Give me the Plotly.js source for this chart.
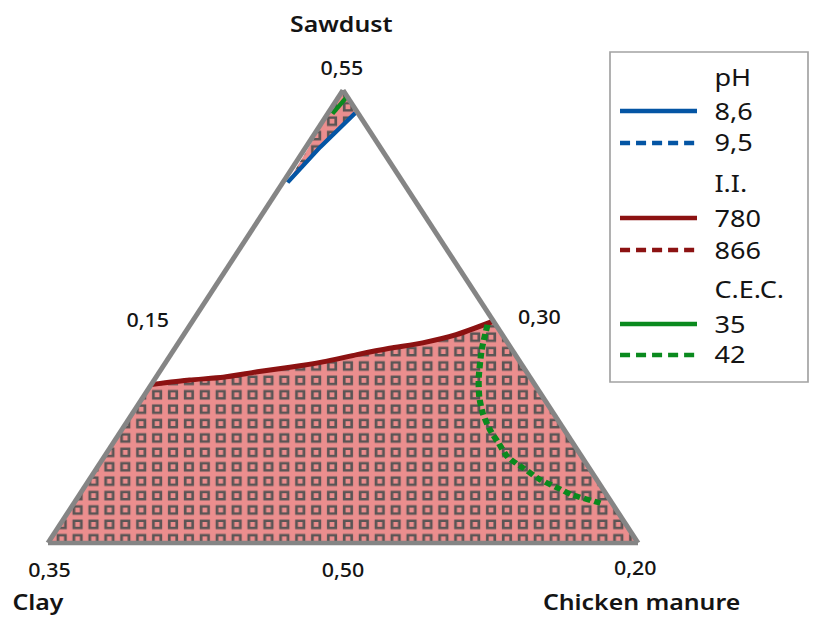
<!DOCTYPE html>
<html>
<head>
<meta charset="utf-8">
<script src="https://cdn.plot.ly/plotly-3.0.1.min.js"></script>
<style>
  html, body { margin: 0; padding: 0; background: #ffffff; overflow: hidden; }
  /* The chart is laid out at a narrower width and widened horizontally */
  #chart { width: 723px; height: 617px; transform: scaleX(1.128631); transform-origin: 0 0; }
</style>
</head>
<body>
<div id="chart"></div>
<script>
// Mixture components and their lower / upper bounds (proportions)
const components = ['Sawdust', 'Clay', 'Chicken manure'];
const sawdustBounds = [0.50, 0.55];
const clayBounds = [0.30, 0.35];
const manureBounds = [0.15, 0.20];

// I.I. = 780 contour (solid)
const ii780Sawdust = [0.5175, 0.5180, 0.5183, 0.5189, 0.5194, 0.5200, 0.5208, 0.5215, 0.5221, 0.5230, 0.5245];
const ii780Clay    = [0.3325, 0.3290, 0.3260, 0.3228, 0.3198, 0.3167, 0.3134, 0.3103, 0.3072, 0.3039, 0.3000];
const ii780Manure  = [0.1500, 0.1530, 0.1557, 0.1583, 0.1608, 0.1633, 0.1658, 0.1682, 0.1707, 0.1731, 0.1755];

// C.E.C. = 42 contour (dashed)
const cec42Sawdust = [0.5241, 0.5213, 0.5182, 0.5161, 0.5143, 0.5125, 0.5110, 0.5095, 0.5083, 0.5070, 0.5061, 0.5053, 0.5045, 0.5043];
const cec42Clay    = [0.3007, 0.3026, 0.3044, 0.3054, 0.3060, 0.3063, 0.3063, 0.3063, 0.3056, 0.3048, 0.3038, 0.3029, 0.3012, 0.3008];
const cec42Manure  = [0.1752, 0.1761, 0.1774, 0.1785, 0.1797, 0.1812, 0.1827, 0.1842, 0.1861, 0.1882, 0.1901, 0.1918, 0.1943, 0.1949];

// pH = 8.6 contour (solid)
const ph86Sawdust = [0.5398, 0.5437, 0.5475];
const ph86Clay    = [0.3098, 0.3051, 0.3002];
const ph86Manure  = [0.1504, 0.1512, 0.1523];

// C.E.C. = 35 contour (solid)
const cec35Sawdust = [0.5474, 0.5493];
const cec35Clay    = [0.3022, 0.3000];
const cec35Manure  = [0.1504, 0.1507];

// Legend groups
const legendTitles = ['pH', 'I.I.', 'C.E.C.'];
const legendLevels = [['8,6', '9,5'], ['780', '866'], ['35', '42']];

const COLORS = {
  blue: '#0455a4',
  red: '#8c1212',
  green: '#0a8a1e',
  pink: '#eb8e8e',
  frame: '#858585',
  text: '#141414'
};

// Vertices of the constrained region (sawdust, clay, manure)
const vSaw = [sawdustBounds[1], clayBounds[0], manureBounds[0]];
const vClay = [sawdustBounds[0], clayBounds[1], manureBounds[0]];
const vMan = [sawdustBounds[0], clayBounds[0], manureBounds[1]];

const fmt = v => v.toFixed(2).replace('.', ',');

// Feasible region below the I.I. contour
const lowS = [...ii780Sawdust.slice().reverse(), vClay[0], vMan[0]];
const lowC = [...ii780Clay.slice().reverse(), vClay[1], vMan[1]];
const lowM = [...ii780Manure.slice().reverse(), vClay[2], vMan[2]];

// Feasible sliver above the pH contour near the sawdust vertex
const topS = [ph86Sawdust[0], vSaw[0], ...ph86Sawdust.slice().reverse()];
const topC = [ph86Clay[0], vSaw[1], ...ph86Clay.slice().reverse()];
const topM = [ph86Manure[0], vSaw[2], ...ph86Manure.slice().reverse()];

const base = { type: 'scatterternary', mode: 'lines', hoverinfo: 'skip', showlegend: false };
const tern = (s, c, m, extra) => Object.assign({}, base, { a: s, b: c, c: m }, extra);

const traces = [
  tern(lowS, lowC, lowM, { fill: 'toself', fillcolor: COLORS.pink, line: { width: 0 } }),
  tern(topS, topC, topM, { fill: 'toself', fillcolor: COLORS.pink, line: { width: 0 } }),
  tern(ii780Sawdust, ii780Clay, ii780Manure, { line: { color: COLORS.red, width: 5, shape: 'spline', smoothing: 0.6 } }),
  tern(ph86Sawdust, ph86Clay, ph86Manure, { line: { color: COLORS.blue, width: 4 } }),
  tern(cec35Sawdust, cec35Clay, cec35Manure, { line: { color: COLORS.green, width: 4 } }),
  tern(cec42Sawdust, cec42Clay, cec42Manure, { line: { color: COLORS.green, width: 5.5, dash: '6px,3.5px', shape: 'spline', smoothing: 0.6 } })
];

// Page helpers for text placement: fractions of the page (margins are zero)
const PAGE_W = 816, H = 617, W = 723;
const px = x => x / PAGE_W;
const py = y => 1 - y / H;

const FAMILY = 'Noto Sans, Open Sans, sans-serif';
const titleFont = { family: FAMILY, size: 22, color: COLORS.text, weight: 600 };
const tickFont = { family: FAMILY, size: 19, color: COLORS.text, weight: 500 };
const legFont = { family: FAMILY, size: 24, color: COLORS.text };

const annotations = [
  { text: components[0], x: px(341), y: py(23), font: titleFont },
  { text: components[1], x: px(38), y: py(601), font: titleFont },
  { text: components[2], x: px(642), y: py(601), font: titleFont },
  { text: fmt(vSaw[0]), x: px(342), y: py(68), font: tickFont },
  { text: fmt(vClay[1]), x: px(50), y: py(570), font: tickFont },
  { text: fmt(vMan[2]), x: px(635), y: py(568), font: tickFont },
  { text: fmt(manureBounds[0]), x: px(148), y: py(320), font: tickFont },
  { text: fmt(clayBounds[0]), x: px(540), y: py(317), font: tickFont },
  { text: fmt(sawdustBounds[0]), x: px(343), y: py(570), font: tickFont }
].map(a => Object.assign({ xref: 'paper', yref: 'paper', showarrow: false, xanchor: 'center', yanchor: 'middle' }, a));

// Legend: box, line samples and labels
const shapes = [{
  type: 'rect', xref: 'paper', yref: 'paper',
  x0: px(610), x1: px(808), y0: py(52), y1: py(382),
  line: { color: '#a3a3a3', width: 1.5 }, fillcolor: 'rgba(0,0,0,0)'
}];
const legendColors = [COLORS.blue, COLORS.red, COLORS.green];
const groupTitleY = [77, 182, 288];
const itemY = [[110, 142], [217, 249], [323, 354]];
legendTitles.forEach((t, g) => {
  annotations.push({ text: t, xref: 'paper', yref: 'paper', x: px(712), y: py(groupTitleY[g]),
    xanchor: 'left', yanchor: 'middle', showarrow: false, font: legFont });
  legendLevels[g].forEach((lvl, k) => {
    const y = itemY[g][k];
    annotations.push({ text: lvl, xref: 'paper', yref: 'paper', x: px(712), y: py(y),
      xanchor: 'left', yanchor: 'middle', showarrow: false, font: legFont });
    shapes.push({ type: 'line', xref: 'paper', yref: 'paper',
      x0: px(620), x1: px(697), y0: py(y + 1), y1: py(y + 1),
      line: { color: legendColors[g], width: 4.5, dash: k === 0 ? 'solid' : '8.9px,5.3px' } });
  });
});

const axisStyle = min => ({
  min: min, showline: true, linecolor: COLORS.frame, linewidth: 4.5,
  showgrid: false, showticklabels: false, ticks: '', title: { text: '' }
});

const layout = {
  width: W, height: H, autosize: false,
  margin: { l: 0, r: 0, t: 0, b: 0, pad: 0 },
  paper_bgcolor: '#ffffff',
  showlegend: false,
  ternary: {
    sum: 1,
    domain: { x: [px(48), px(638)], y: [py(543), py(90.2)] },
    bgcolor: 'rgba(0,0,0,0)',
    aaxis: axisStyle(sawdustBounds[0]),
    baxis: axisStyle(clayBounds[0]),
    caxis: axisStyle(manureBounds[0])
  },
  annotations: annotations,
  shapes: shapes
};

const gd = document.getElementById('chart');
Plotly.newPlot(gd, traces, layout, { displayModeBar: false, staticPlot: true }).then(() => {
  // Square-grid hatch for the feasible region fills
  const svgNS = 'http://www.w3.org/2000/svg';
  const svg = gd.querySelector('svg.main-svg');
  let defs = svg.querySelector('defs');
  if (!defs) { defs = document.createElementNS(svgNS, 'defs'); svg.insertBefore(defs, svg.firstChild); }
  const fills = gd.querySelectorAll('path.js-fill');
  let ox = 0, oy = 0;
  if (fills.length) {
    const m = fills[0].getCTM();
    if (m) { ox = m.e; oy = m.f; }
  }
  const tw = 14.09, th = 14.4;
  const pat = document.createElementNS(svgNS, 'pattern');
  pat.setAttribute('id', 'squareHatch');
  pat.setAttribute('patternUnits', 'userSpaceOnUse');
  pat.setAttribute('x', String(12.4 - tw / 2 - ox));
  pat.setAttribute('y', String(6 - th / 2 - oy));
  pat.setAttribute('width', String(tw));
  pat.setAttribute('height', String(th));
  const bg = document.createElementNS(svgNS, 'rect');
  bg.setAttribute('x', '0'); bg.setAttribute('y', '0');
  bg.setAttribute('width', String(tw)); bg.setAttribute('height', String(th));
  bg.setAttribute('fill', COLORS.pink);
  const sq = document.createElementNS(svgNS, 'rect');
  sq.setAttribute('x', String(tw / 2 - 3.3)); sq.setAttribute('y', String(th / 2 - 3.6));
  sq.setAttribute('width', '6.6'); sq.setAttribute('height', '7.2');
  sq.setAttribute('fill', 'none');
  sq.setAttribute('stroke', '#5a5555');
  sq.setAttribute('stroke-width', '2.4');
  pat.appendChild(bg); pat.appendChild(sq);
  defs.appendChild(pat);
  fills.forEach(p => {
    p.style.fill = 'url(#squareHatch)';
    p.style.fillOpacity = '1';
  });
});
</script>
</body>
</html>
